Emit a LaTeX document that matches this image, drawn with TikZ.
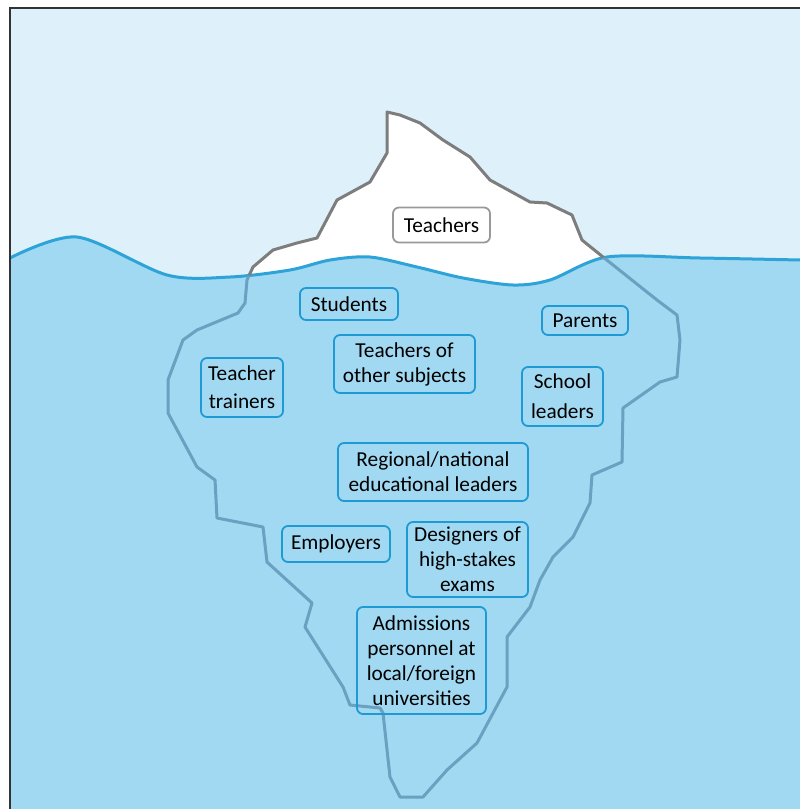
\documentclass[tikz,border=0pt]{standalone}
\usepackage{fontspec}
\setmainfont{Carlito}
\usetikzlibrary{positioning}
\definecolor{skyBlue}{RGB}{222,241,251}
\definecolor{waterBlue}{RGB}{162,217,242}
\definecolor{waveBlue}{RGB}{45,163,216}
\definecolor{iceGray}{RGB}{125,125,125}
\definecolor{deepGray}{RGB}{106,160,192}
\definecolor{boxBlue}{RGB}{30,154,212}
\tikzstyle{box}=[rectangle, rounded corners=6pt, align=center, draw=boxBlue,
line width=1.8pt, text=black, font=\fontsize{21.3}{25}\selectfont, inner sep=2pt]
\tikzstyle{tipBox}=[box, draw=black!40, fill=white]
\tikzstyle{iceLine}=[line width=3pt, line join=round]
\newcommand\waveLine{plot[smooth] coordinates {(10,258) (77,237) (167,275)
  (230,277) (290,270) (330,260) (370,257) (417,267) (463,278) (513,285)
  (550,280) (607,257) (700,258) (800,260)}}
\newcommand\iceLine{(245,303) -- (247,280) -- (253,267) -- (273,250) -- (297,243)
  -- (317,238) -- (337,200) -- (370,182) -- (387,153) -- (387,112) -- (400,115)
  -- (420,123) -- (443,140) -- (470,157) -- (490,180) -- (530,202) -- (547,203)
  -- (572,215) -- (582,240) -- (603,257) -- (657,300) -- (677,315) -- (680,340)
  -- (677,377) -- (660,382) -- (623,408) -- (622,462) -- (592,475) -- (590,503)
  -- (573,537) -- (553,557) -- (540,580) -- (530,607) -- (507,637) -- (507,687)
  -- (477,743) -- (447,770) -- (423,797) -- (400,797) -- (390,777) -- (383,713)
  -- (380,708) -- (350,705) -- (343,687) -- (305,627) -- (312,603) -- (267,562)
  -- (263,527) -- (217,518) -- (215,480) -- (197,467) -- (168,413) -- (168,380)
  -- (183,340) -- (197,330) -- (238,313) -- cycle}

\begin{document}
\begin{tikzpicture}[x=1pt, y=-1pt]
  \useasboundingbox (0,0) rectangle (800,809);
  % sky, ice and sea
  \fill[skyBlue] (10,8) rectangle (800,809);
  \fill[white] \iceLine;
  \fill[waterBlue] \waveLine -- (800,809) -- (10,809) -- cycle;
  \draw[waveBlue, line width=3pt] \waveLine;
  \begin{scope}
    \clip \waveLine -- (800,809) -- (10,809) -- cycle;
    \draw[iceLine, deepGray] \iceLine;
  \end{scope}
  \begin{scope}
    \clip \waveLine -- (800,0) -- (10,0) -- cycle;
    \draw[iceLine, iceGray] \iceLine;
  \end{scope}
  \draw[black!80, line width=1.5pt] (10,809) -- (10,8) -- (800,8);

  \node(teachers) [tipBox, minimum width=97pt, minimum height=35pt] at (441.5,225) {Teachers};
  \node(students) [box, minimum width=98pt, minimum height=32pt] at (349,304) {Students};
  \node(parents) [box, minimum width=86pt, minimum height=29pt] at (585,320.5) {Parents};
  \node(otherSubj) [box, minimum width=141pt, minimum height=58pt] at (404.5,364) {Teachers of\\other subjects};
  \node(trainers) [box, minimum width=82pt, minimum height=59pt] at (242,387.5) {Teacher\\[3pt]trainers};
  \node(schoolLead) [box, minimum width=81pt, minimum height=59pt] at (562.5,396.5) {School\\[5pt]leaders};
  \node(regional) [box, minimum width=190pt, minimum height=58pt] at (433,472) {Regional/national\\educational leaders};
  \node(employers) [box, minimum width=108pt, minimum height=36pt] at (336,544) {Employers};
  \node(designers) [box, minimum width=121pt, minimum height=75pt] at (467.5,559.5) {Designers of\\high-stakes\\exams};
  \node(admissions) [box, minimum width=129pt, minimum height=107pt] at (421.5,660.5) {Admissions\\personnel at\\local/foreign\\universities};
\end{tikzpicture}
\end{document}
